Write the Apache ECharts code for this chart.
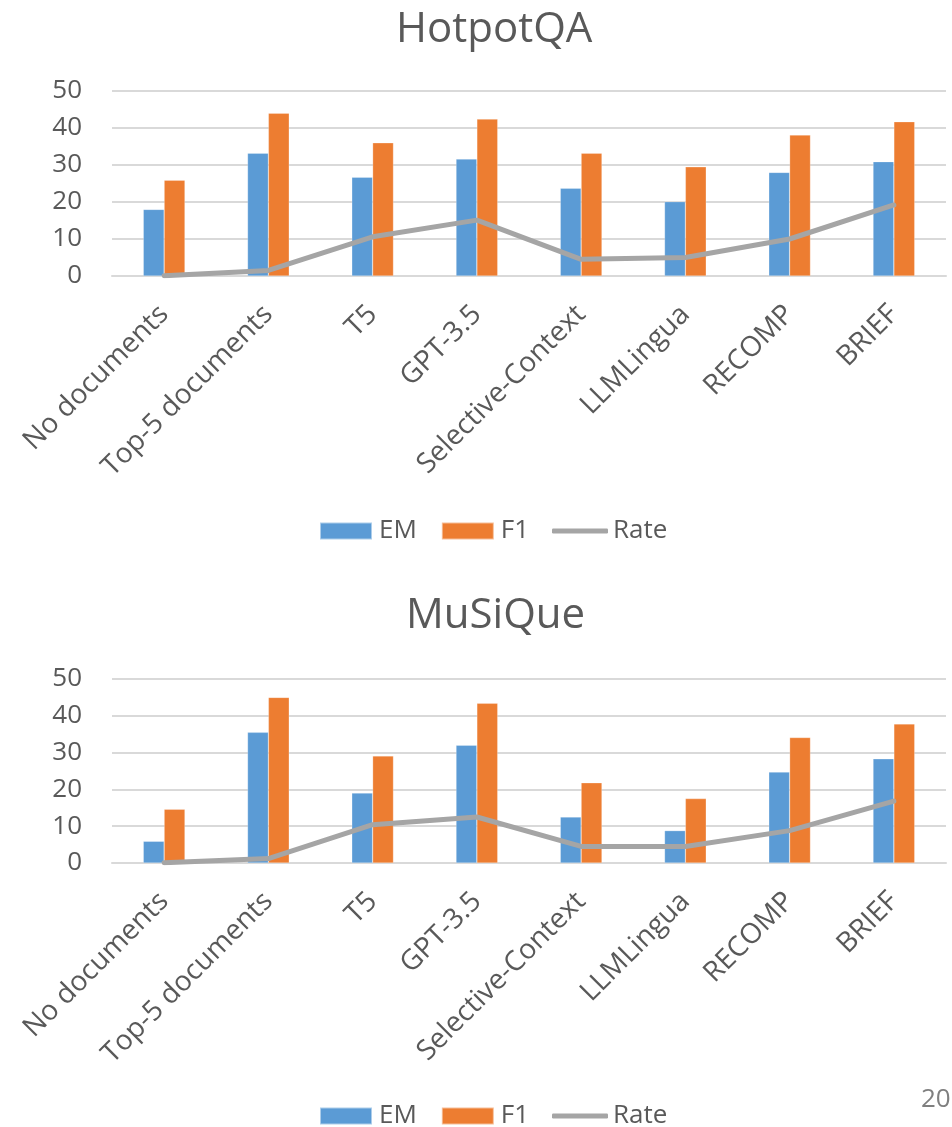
<!DOCTYPE html>
<html>
<head>
<meta charset="utf-8">
<script src="https://cdn.jsdelivr.net/npm/echarts@6/dist/echarts.min.js"></script>
<style>
  html, body { margin: 0; padding: 0; background: #ffffff; }
  #chart { width: 952px; height: 1127px; }
</style>
</head>
<body>
<div id="chart"></div>
<script>
// Methods compared on both datasets
const categories = ['No documents', 'Top-5 documents', 'T5', 'GPT-3.5', 'Selective-Context', 'LLMLingua', 'RECOMP', 'BRIEF'];
const yTicks = [0, 10, 20, 30, 40, 50];

// HotpotQA
const hotpotEM   = [18.0, 33.2, 26.7, 31.6, 23.7, 20.1, 28.0, 30.9];
const hotpotF1   = [25.9, 44.0, 36.0, 42.4, 33.2, 29.5, 38.1, 41.7];
const hotpotRate = [0.1, 1.5, 10.6, 15.1, 4.5, 5.0, 10.0, 19.2];

// MuSiQue
const musiqueEM   = [5.9, 35.5, 19.0, 32.0, 12.5, 8.8, 24.7, 28.3];
const musiqueF1   = [14.6, 45.0, 29.1, 43.4, 21.8, 17.5, 34.1, 37.8];
const musiqueRate = [0.1, 1.2, 10.4, 12.5, 4.5, 4.5, 8.8, 16.8];

const FONT = '"Open Sans", sans-serif';
const TEXT = '#595959';
const BLUE = '#5B9BD5';
const ORANGE = '#ED7D31';
const GREY = '#A5A5A5';

const chart = echarts.init(document.getElementById('chart'), null, { renderer: 'canvas' });

function xAxis(gridIndex) {
  return {
    type: 'category', gridIndex, data: categories,
    axisLine: { lineStyle: { color: '#D9D9D9', width: 2 } },
    axisTick: { show: false },
    axisLabel: { rotate: 45, interval: 0, margin: 34, color: TEXT, fontSize: 28, fontFamily: FONT }
  };
}
function yAxis(gridIndex) {
  return {
    type: 'value', gridIndex, min: yTicks[0], max: yTicks[yTicks.length - 1], interval: 10,
    axisLine: { show: false }, axisTick: { show: false },
    splitLine: { lineStyle: { color: '#D9D9D9', width: 2 } },
    axisLabel: { margin: 30, color: TEXT, fontSize: 26, fontFamily: FONT }
  };
}
function bars(name, data, color, idx) {
  return {
    name, type: 'bar', xAxisIndex: idx, yAxisIndex: idx, data,
    barGap: '0%', barCategoryGap: '60%',
    itemStyle: { color, borderColor: 'rgba(255,255,255,0.5)', borderWidth: 0.5 },
    z: 2
  };
}
function rate(data, idx) {
  return {
    name: 'Rate', type: 'line', xAxisIndex: idx, yAxisIndex: idx, data,
    symbol: 'none', showSymbol: false,
    lineStyle: { color: GREY, width: 5, cap: 'round', join: 'round' },
    itemStyle: { color: GREY }, z: 3
  };
}
const legendText = { color: TEXT, fontSize: 26, fontFamily: FONT, padding: [0, 0, 0, 0] };
// bar keys, then the line key as its own strip so its swatch can be a thin bar
function barLegend(top) {
  return {
    data: [{ name: 'EM', icon: 'rect' }, { name: 'F1', icon: 'rect' }],
    left: 314, top, itemWidth: 52, itemHeight: 17, itemGap: 24,
    textStyle: { ...legendText, padding: [0, 0, 0, 2] }
  };
}
function lineLegend(top) {
  return {
    data: [{ name: 'Rate', icon: 'roundRect', itemStyle: { color: GREY } }],
    left: 547, top, itemWidth: 56, itemHeight: 5, textStyle: legendText
  };
}

chart.setOption({
  animation: false,
  title: [
    { text: 'HotpotQA', left: 391, top: 4, textStyle: { color: TEXT, fontSize: 42, fontWeight: 'normal', fontFamily: FONT } },
    { text: 'MuSiQue', left: 401, top: 590, textStyle: { color: TEXT, fontSize: 42, fontWeight: 'normal', fontFamily: FONT } }
  ],
  legend: [barLegend(513), lineLegend(513), barLegend(1098), lineLegend(1098)],
  grid: [
    { left: 112, right: 6, top: 91, height: 185 },
    { left: 112, right: 6, top: 679, height: 184 }
  ],
  xAxis: [xAxis(0), xAxis(1)],
  yAxis: [yAxis(0), yAxis(1)],
  series: [
    bars('EM', hotpotEM, BLUE, 0), bars('F1', hotpotF1, ORANGE, 0), rate(hotpotRate, 0),
    bars('EM', musiqueEM, BLUE, 1), bars('F1', musiqueF1, ORANGE, 1), rate(musiqueRate, 1)
  ],
  graphic: [
    { type: 'text', left: 921, top: 1087, style: { text: '20', fill: '#7F7F7F', fontSize: 26, fontFamily: FONT } }
  ]
});
</script>
</body>
</html>
